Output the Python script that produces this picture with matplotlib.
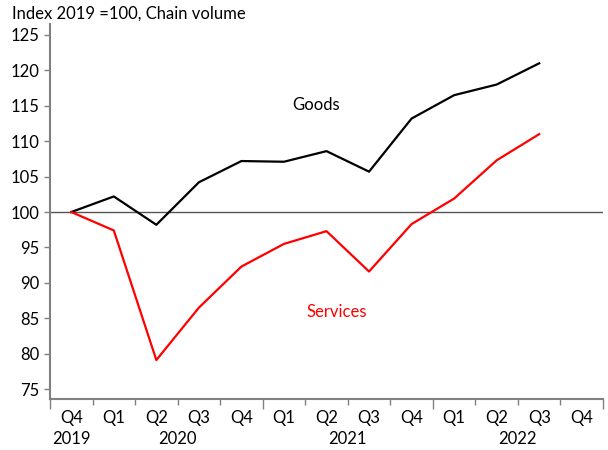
import matplotlib.pyplot as plt
import numpy as np
from matplotlib.ticker import FixedLocator, NullFormatter

plt.rcParams['font.family'] = ['Lato', 'DejaVu Sans']

quarters = ["Q4", "Q1", "Q2", "Q3", "Q4", "Q1", "Q2", "Q3", "Q4", "Q1", "Q2", "Q3", "Q4"]
years = ["2019", "2020", "2021", "2022"]
year_pos = [0, 2.5, 6.5, 10.5]
goods = [100, 102.2, 98.2, 104.2, 107.2, 107.1, 108.6, 105.7, 113.2, 116.5, 118.0, 121.0]
services = [100, 97.4, 79.1, 86.5, 92.3, 95.5, 97.3, 91.6, 98.3, 101.9, 107.3, 111.0]

fig = plt.figure(figsize=(6.08, 4.5), dpi=100)
ax = fig.add_axes([50 / 608, 51 / 450, 553 / 608, 375 / 450])

x = np.arange(len(goods))
ax.plot(x, goods, color="black", lw=1.6)
ax.plot(x, services, color="#ff0000", lw=1.6)
ax.axhline(100, color="#555555", lw=1.0, zorder=0)

ax.set_xlim(-0.5, len(quarters) - 0.5)
ax.set_ylim(73.6, 126.55)
ax.set_yticks(np.arange(75, 126, 5))

for s in ["top", "right"]:
    ax.spines[s].set_visible(False)
for s in ["left", "bottom"]:
    ax.spines[s].set_color("#808080")
    ax.spines[s].set_linewidth(1.5)

ax.tick_params(axis="y", colors="#808080", labelcolor="black", labelsize=12, length=4, width=1)
ax.xaxis.set_major_locator(FixedLocator([-0.5, 4.5, 8.5, 12.5]))
ax.xaxis.set_minor_locator(FixedLocator(np.arange(0.5, 12, 1)))
ax.xaxis.set_major_formatter(NullFormatter())
ax.tick_params(axis="x", which="major", colors="#808080", length=7, width=1)
ax.tick_params(axis="x", which="minor", colors="#808080", length=4, width=1)

for i, q in enumerate(quarters):
    ax.text(i, -0.05, q, transform=ax.get_xaxis_transform(), ha="center", va="center", fontsize=12)
for p, yr in zip(year_pos, years):
    ax.text(p, -0.107, yr, transform=ax.get_xaxis_transform(), ha="center", va="center", fontsize=12)

ax.text(5.76, 115.1, "Goods", ha="center", va="center", fontsize=12, color="black")
ax.text(6.23, 85.9, "Services", ha="center", va="center", fontsize=12, color="#ff0000")

fig.text(12 / 608, 1 - 14 / 450, "Index 2019 =100, Chain volume", ha="left", va="center", fontsize=12)

fig.savefig("out.png", dpi=100)
